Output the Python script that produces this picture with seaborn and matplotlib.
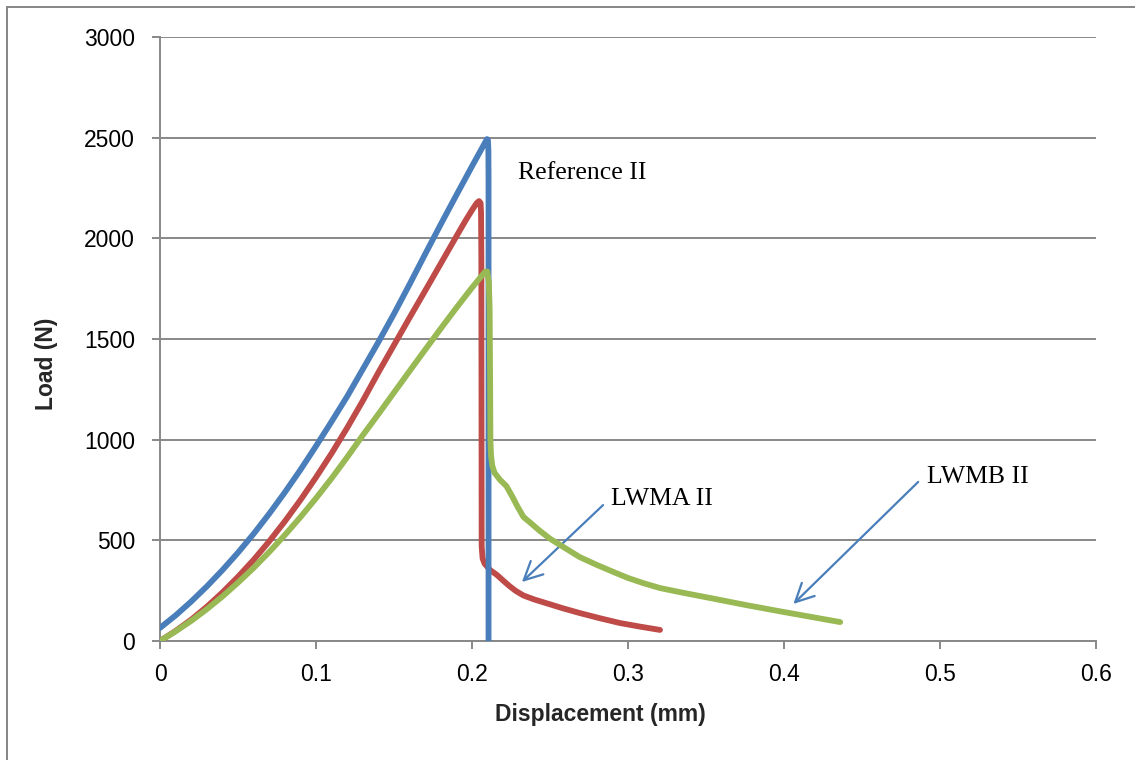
import matplotlib
matplotlib.use("Agg")
import matplotlib.pyplot as plt
from matplotlib.lines import Line2D
import seaborn as sns
import pandas as pd

# ---- data ----
ref_x = [0, 0.01, 0.02, 0.03, 0.04, 0.05, 0.06, 0.07, 0.08, 0.09, 0.10, 0.11, 0.12,
         0.13, 0.14, 0.15, 0.16, 0.17, 0.18, 0.19, 0.20, 0.2096, 0.2102, 0.2105, 0.2106, 0.2106]
ref_y = [65, 127, 196, 271, 352, 439, 532, 632, 738, 850, 968, 1090, 1215,
         1350, 1485, 1625, 1772, 1922, 2070, 2215, 2358, 2493, 2490, 2440, 2300, 0]

lwma_x = [0, 0.01, 0.02, 0.03, 0.04, 0.05, 0.06, 0.07, 0.08, 0.09, 0.10, 0.11, 0.12,
          0.13, 0.14, 0.15, 0.16, 0.17, 0.18, 0.19, 0.196, 0.200, 0.203, 0.2045, 0.2055,
          0.2058, 0.2060, 0.2062, 0.2068, 0.2080, 0.2115, 0.216, 0.220, 0.224, 0.228,
          0.233, 0.240, 0.248, 0.258, 0.269, 0.282, 0.295, 0.308, 0.3205]
lwma_y = [0, 50, 106, 170, 241, 319, 403, 495, 594, 700, 813, 932, 1059,
          1193, 1334, 1470, 1606, 1740, 1875, 2010, 2090, 2140, 2175, 2185, 2175,
          2130, 1900, 470, 410, 385, 353, 328, 300, 273, 249,
          226, 206, 187, 163, 139, 113, 89, 71, 55]

lwmb_x = [0, 0.01, 0.02, 0.03, 0.04, 0.05, 0.06, 0.07, 0.08, 0.09, 0.10, 0.11, 0.12,
          0.13, 0.14, 0.15, 0.16, 0.17, 0.18, 0.19, 0.20, 0.2085, 0.2098, 0.2108, 0.2113,
          0.2116, 0.2118, 0.2122, 0.2130, 0.2145, 0.218, 0.222, 0.226, 0.229, 0.233,
          0.237, 0.243, 0.250, 0.260, 0.269, 0.280, 0.290, 0.300, 0.310, 0.3205,
          0.335, 0.355, 0.376, 0.397, 0.415, 0.436]
lwmb_y = [0, 48, 100, 158, 221, 290, 363, 442, 526, 615, 709, 808, 913,
          1022, 1127, 1234, 1341, 1447, 1552, 1655, 1755, 1835, 1835, 1780, 1650,
          1300, 1000, 920, 870, 835, 800, 770, 715, 670, 616,
          590, 550, 508, 460, 417, 378, 345, 313, 287, 263,
          240, 210, 178, 148, 123, 94]

x_ticks = [0, 0.1, 0.2, 0.3, 0.4, 0.5, 0.6]
x_tick_labels = ["0", "0.1", "0.2", "0.3", "0.4", "0.5", "0.6"]
y_ticks = [0, 500, 1000, 1500, 2000, 2500, 3000]
y_tick_labels = ["0", "500", "1000", "1500", "2000", "2500", "3000"]

labels = ["Reference II", "LWMA II", "LWMB II"]

# ---- style ----
sns.set_theme(style="white")
plt.rcParams["font.family"] = ["Liberation Sans", "DejaVu Sans"]

BLUE = "#4A7EBB"
RED = "#BE4B48"
GREEN = "#98B954"
GRID = "#888888"

fig = plt.figure(figsize=(11.35, 7.6), dpi=100)
W, H = 1135, 760
ax = fig.add_axes([160 / W, 1 - 641 / H, (1096 - 160) / W, (641 - 37) / H])

df_ref = pd.DataFrame({"x": ref_x, "y": ref_y})
df_a = pd.DataFrame({"x": lwma_x, "y": lwma_y})
df_b = pd.DataFrame({"x": lwmb_x, "y": lwmb_y})

common = dict(sort=False, estimator=None, linewidth=4.2,
              solid_capstyle="round", solid_joinstyle="round")
sns.lineplot(data=df_a, x="x", y="y", color=RED, ax=ax, zorder=3, **common)
sns.lineplot(data=df_ref, x="x", y="y", color=BLUE, ax=ax, zorder=4, **common)
sns.lineplot(data=df_b, x="x", y="y", color=GREEN, ax=ax, zorder=5, **common)

ax.set_xlim(0, 0.6)
ax.set_ylim(0, 3000)
ax.set_xticks(x_ticks)
ax.set_xticklabels(x_tick_labels)
ax.set_yticks(y_ticks)
ax.set_yticklabels(y_tick_labels)
ax.tick_params(axis="both", which="major", labelsize=16.5, colors=GRID,
               labelcolor="black", length=6, width=1.4, direction="out")
ax.tick_params(axis="y", pad=12, left=True)
ax.tick_params(axis="x", pad=10, bottom=True)

ax.yaxis.grid(True, color=GRID, linewidth=1.4)
ax.xaxis.grid(False)
for s in ["top", "right"]:
    ax.spines[s].set_visible(False)
for s in ["left", "bottom"]:
    ax.spines[s].set_color(GRID)
    ax.spines[s].set_linewidth(1.4)

ax.set_xlabel("Displacement (mm)", fontsize=16.5, fontweight="bold", va="top")
ax.xaxis.set_label_coords(0.470, -0.1026)
ax.set_ylabel("Load (N)", fontsize=16.5, fontweight="bold")
ax.yaxis.set_label_coords(-0.109, 0.4586)

# ---- annotations ----
tfont = dict(family=["Liberation Serif", "DejaVu Serif"], fontsize=18.5, color="black")
ax.text(0.2295, 2295, labels[0], va="baseline", ha="left", **tfont)
ax.text(0.289, 675, labels[1], va="baseline", ha="left", **tfont)
ax.text(0.4917, 785, labels[2], va="baseline", ha="left", **tfont)

arrow = dict(arrowstyle="->,head_length=0.6,head_width=0.3", color=BLUE, lw=1.6,
             shrinkA=0, shrinkB=0, mutation_scale=22)
ax.annotate("", xy=(0.232, 293), xytext=(0.284, 675), arrowprops=arrow)
ax.annotate("", xy=(0.406, 184), xytext=(0.486, 790), arrowprops=arrow)

# ---- outer chart border ----
fig.add_artist(Line2D([7 / W, 7 / W], [0, 1 - 7 / H], transform=fig.transFigure,
                      color="#868686", linewidth=1.4))
fig.add_artist(Line2D([7 / W, 1], [1 - 7 / H, 1 - 7 / H], transform=fig.transFigure,
                      color="#868686", linewidth=1.4))

fig.savefig("out.png", dpi=100)
